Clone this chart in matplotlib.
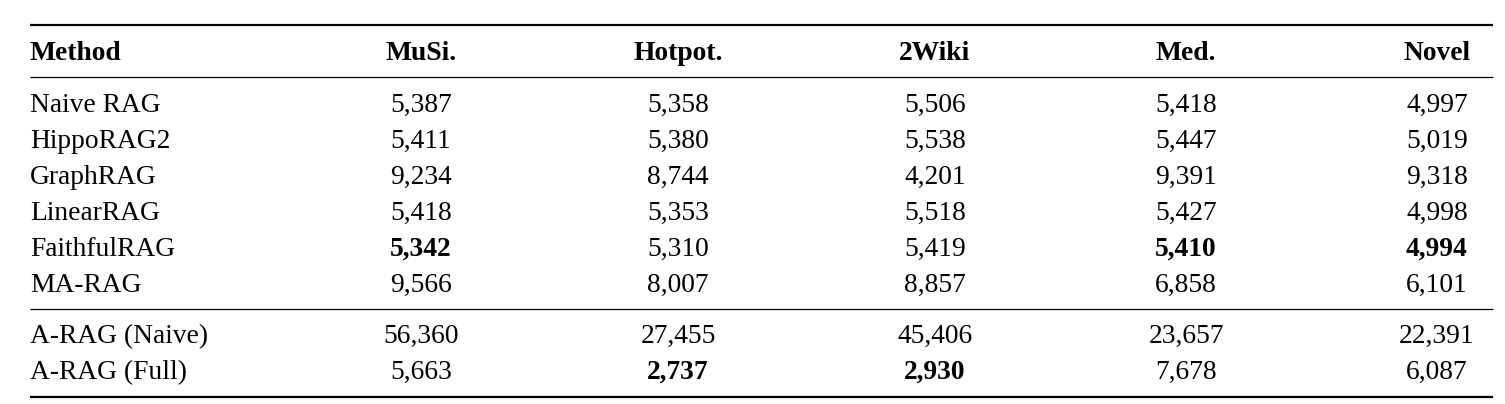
import matplotlib
matplotlib.use("Agg")
from matplotlib import pyplot as plt

# table contents
header = ["Method", "MuSi.", "Hotpot.", "2Wiki", "Med.", "Novel"]
methods = ["Naive RAG", "HippoRAG2", "GraphRAG", "LinearRAG", "FaithfulRAG",
           "MA-RAG", "A-RAG (Naive)", "A-RAG (Full)"]
musi = [5387, 5411, 9234, 5418, 5342, 9566, 56360, 5663]
hotpot = [5358, 5380, 8744, 5353, 5310, 8007, 27455, 2737]
wiki2 = [5506, 5538, 4201, 5518, 5419, 8857, 45406, 2930]
med = [5418, 5447, 9391, 5427, 5410, 6858, 23657, 7678]
novel = [4997, 5019, 9318, 4998, 4994, 6101, 22391, 6087]
# (row, col) cells set in bold
bold_cells = [(4, 0), (4, 3), (4, 4), (7, 1), (7, 2)]

columns = [musi, hotpot, wiki2, med, novel]

plt.rcParams['font.family'] = ['Liberation Serif', 'DejaVu Serif']
fs = 19.8

fig = plt.figure(figsize=(15.05, 4.04), dpi=100)
ax = fig.add_axes([0, 0, 1, 1])
ax.set_xlim(0, 1505)
ax.set_ylim(404, 0)
ax.axis("off")

left = 30
right = 1493
col_x = [421, 678, 935, 1186, 1437]
head_y = 60
row_y = [112, 148, 184, 220, 256, 292, 343, 379]

# rules
ax.hlines(25, left, right, color="black", lw=1.6)
ax.hlines(77, left, right, color="black", lw=0.9)
ax.hlines(309, left, right, color="black", lw=0.9)
ax.hlines(397, left, right, color="black", lw=1.6)

ax.text(left, head_y, header[0], fontsize=fs, fontweight="bold",
        ha="left", va="baseline")
for name, x in zip(header[1:], col_x):
    ax.text(x, head_y, name, fontsize=fs, fontweight="bold",
            ha="center", va="baseline")

for i, m in enumerate(methods):
    ax.text(left, row_y[i], m, fontsize=fs, ha="left", va="baseline")
    for j, col in enumerate(columns):
        w = "bold" if (i, j) in bold_cells else "normal"
        ax.text(col_x[j], row_y[i], "{:,}".format(col[i]), fontsize=fs,
                fontweight=w, ha="center", va="baseline")

fig.savefig("out.png", dpi=100)
